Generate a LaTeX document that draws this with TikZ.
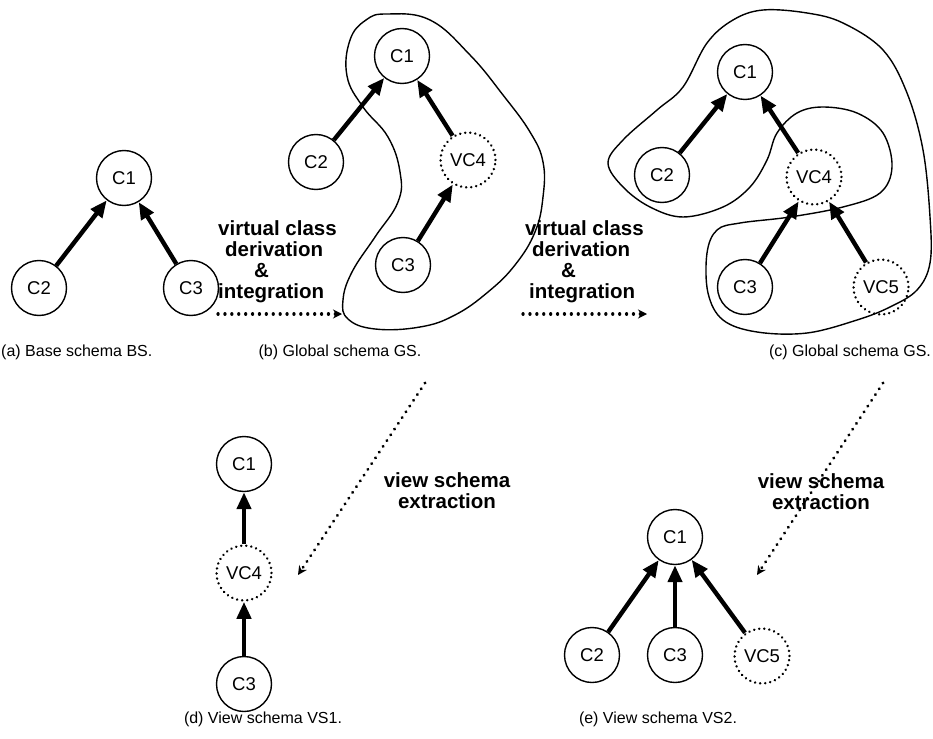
\documentclass[tikz,border=0pt]{standalone}
\usepackage{fontspec}
\setmainfont{Liberation Sans}
\usetikzlibrary{arrows.meta}

\tikzset{
  cls/.style={circle, draw, line width=1.4pt, minimum size=55pt, inner sep=0pt,
              font=\fontsize{18.5}{18.5}\selectfont},
  vcls/.style={cls, line width=2.6pt, line cap=round, dash pattern=on 0.1pt off 5pt},
  isa/.style={line width=4.4pt, -{Triangle[length=17pt,width=14pt]}},
  derive/.style={line width=3.2pt, line cap=round, dash pattern=on 0.1pt off 6.8pt,
                 -{Stealth[length=9pt,width=9pt]}},
  opname/.style={font=\bfseries\fontsize{20.5}{21}\selectfont, inner sep=0pt},
  caption/.style={font=\fontsize{16}{16}\selectfont, inner sep=0pt},
  region/.style={line width=1.4pt}
}

\begin{document}
\begin{tikzpicture}[x=1pt, y=-1pt]
\useasboundingbox (0,0) rectangle (933,738);

% ---------- (a) base schema ----------
\node[cls] (a1) at (124,178) {C1};
\node[cls] (a2) at (39,288) {C2};
\node[cls] (a3) at (191,288) {C3};
\draw[isa] (a2) -- (a1);
\draw[isa] (a3) -- (a1);
\node[caption, anchor=west] (capa) at (1,352) {(a) Base schema BS.};

% ---------- (b) global schema ----------
\draw[region] plot[smooth cycle, tension=0.7] coordinates {
  (387,14) (430,20) (470,55) (503,95) (530,132) (543,162) (543,197) (535,232)
  (515,265) (488,292) (455,315) (420,327) (375,329) (348,319) (343,300)
  (352,272) (375,237) (398,202) (400,172) (388,137) (363,107) (347,76)
  (350,40) (366,20)};
\node[cls]  (b1) at (402,56) {C1};
\node[cls]  (b2) at (316,162) {C2};
\node[vcls] (b4) at (468,160) {VC4};
\node[cls]  (b3) at (403,265) {C3};
\draw[isa] (b2) -- (b1);
\draw[isa] (b4) -- (b1);
\draw[isa] (b3) -- (b4);
\node[caption] (capb) at (340,352) {(b) Global schema GS.};

% ---------- (c) global schema ----------
\draw[region] plot[smooth cycle, tension=0.6] coordinates {
  (608,163) (623,140) (657,110) (683,87) (707,43) (733,20) (763,10) (807,13)
  (843,23) (883,50) (907,93) (923,150) (930,217) (930,263) (917,290)
  (890,307) (857,320) (807,333) (757,332) (723,320) (708,293) (707,253)
  (717,230) (740,223) (790,217) (843,207) (880,193) (892,167) (883,133)
  (857,113) (823,107) (797,113) (777,133) (767,160) (750,187) (723,207)
  (683,217) (650,207) (623,187)};
\node[cls]  (c1) at (745,72) {C1};
\node[cls]  (c2) at (662,175) {C2};
\node[vcls] (c4) at (814,177) {VC4};
\node[cls]  (c3) at (745,287) {C3};
\node[vcls] (c5) at (881,287) {VC5};
\draw[isa] (c2) -- (c1);
\draw[isa] (c4) -- (c1);
\draw[isa] (c3) -- (c4);
\draw[isa] (c5) -- (c4);
\node[caption] (capc) at (850,352) {(c) Global schema GS.};

% ---------- (d) view schema VS1 ----------
\node[cls]  (d1) at (244,464) {C1};
\node[vcls] (d4) at (244,573) {VC4};
\node[cls]  (d3) at (244,684) {C3};
\draw[isa] (d4) -- (d1);
\draw[isa] (d3) -- (d4);
\node[caption] (capd) at (263,719) {(d) View schema VS1.};

% ---------- (e) view schema VS2 ----------
\node[cls]  (e1) at (675,537) {C1};
\node[cls]  (e2) at (592,655) {C2};
\node[cls]  (e3) at (675,655) {C3};
\node[vcls] (e5) at (762,656) {VC5};
\draw[isa] (e2) -- (e1);
\draw[isa] (e3) -- (e1);
\draw[isa] (e5) -- (e1);
\node[caption] (cape) at (658,719) {(e) View schema VS2.};

% ---------- transformations between schemas ----------
\coordinate (ab0) at (218,314);
\coordinate (ab1) at (342,314);
\coordinate (bc0) at (523,314);
\coordinate (bc1) at (647,314);
\coordinate (bd0) at (425,383);
\coordinate (bd1) at (298,575);
\coordinate (ce0) at (883,383);
\coordinate (ce1) at (757,575);
\draw[derive] (ab0) -- (ab1);
\draw[derive] (bc0) -- (bc1);
\draw[derive] (bd0) -- (bd1);
\draw[derive] (ce0) -- (ce1);

\node[opname, anchor=north west, align=left] (opab) at (218,220)
  {virtual class\\\hspace*{7pt}derivation\\\hspace*{36pt}\&\\integration};
\node[opname, anchor=north west, align=left] (opbc) at (525,220)
  {virtual class\\\hspace*{7pt}derivation\\\hspace*{36pt}\&\\\hspace*{4pt}integration};
\node[opname, align=center] (opbd) at (447,491) {view schema\\extraction};
\node[opname, align=center] (opce) at (821,492) {view schema\\extraction};
\end{tikzpicture}
\end{document}
